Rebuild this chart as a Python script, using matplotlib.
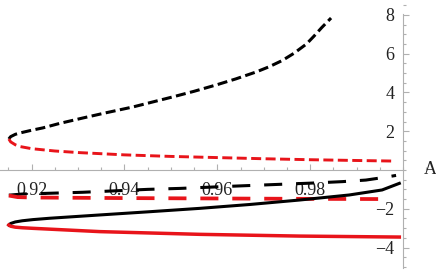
import numpy as np
import matplotlib
matplotlib.use("Agg")
import matplotlib.pyplot as plt
from matplotlib.ticker import MultipleLocator, FixedLocator

# upper pair (short dashes), meet at the nose
a_up_black = [0.9151, 0.9155, 0.9165, 0.9175, 0.9200, 0.9224, 0.9260, 0.9310, 0.9360,
              0.9418, 0.9504, 0.9550, 0.9598, 0.9640, 0.9684, 0.9712, 0.9740, 0.9765,
              0.9792, 0.9808, 0.9825, 0.9845]
y_up_black = [1.60, 1.72, 1.84, 1.91, 2.05, 2.17, 2.40, 2.68, 2.95,
              3.25, 3.77, 4.06, 4.39, 4.70, 5.06, 5.33, 5.65, 6.02,
              6.50, 6.90, 7.35, 7.84]
a_up_red = [0.9151, 0.9155, 0.9165, 0.9175, 0.9200, 0.9250, 0.9300, 0.9400, 0.9500,
            0.9600, 0.9700, 0.9800, 0.9900, 0.9980]
y_up_red = [1.60, 1.45, 1.30, 1.21, 1.10, 0.98, 0.90, 0.78, 0.70,
            0.64, 0.58, 0.53, 0.49, 0.46]

# middle pair (long dashes)
a_mid_black = [0.9151, 0.9180, 0.9240, 0.9310, 0.9450, 0.9520, 0.9650, 0.9735, 0.9800,
               0.9870, 0.9920, 0.9960, 0.9985]
y_mid_black = [-1.30, -1.24, -1.20, -1.15, -1.00, -0.95, -0.82, -0.74, -0.68,
               -0.60, -0.52, -0.38, -0.28]
a_mid_red = [0.9151, 0.9170, 0.9200, 0.9400, 0.9600, 0.9800, 0.9960]
y_mid_red = [-1.32, -1.40, -1.42, -1.45, -1.47, -1.49, -1.50]

# lower pair (solid)
a_low_black = [0.9151, 0.9155, 0.9165, 0.9180, 0.9203, 0.9239, 0.9347, 0.9450, 0.9562,
               0.9670, 0.9777, 0.9884, 0.9955, 0.9992]
y_low_black = [-2.84, -2.76, -2.68, -2.62, -2.56, -2.49, -2.32, -2.16, -1.98,
               -1.78, -1.55, -1.29, -1.03, -0.69]
a_low_red = [0.9151, 0.9155, 0.9165, 0.9180, 0.9203, 0.9347, 0.9562, 0.9777, 0.9992]
y_low_red = [-2.84, -2.90, -2.95, -2.98, -3.01, -3.18, -3.32, -3.41, -3.46]

x_ticks = [0.92, 0.94, 0.96, 0.98]
y_ticks = [-4, -2, 2, 4, 6, 8]

plt.rcParams['font.family'] = ['Liberation Serif', 'DejaVu Serif']
plt.rcParams['lines.scale_dashes'] = False

fig = plt.figure(figsize=(4.36, 2.70), dpi=100)
ax = fig.add_axes([0, 0, 1, 1])
ax.patch.set_alpha(0)

red = '#e8141a'
short = (0, (7.2, 3.2))
long_ = (0, (13, 10))
ax.plot(a_up_black, y_up_black, color='black', lw=2.2, linestyle=short)
ax.plot(a_up_red, y_up_red, color=red, lw=2.1, linestyle=short)
ax.plot(a_mid_black, y_mid_black, color='black', lw=2.2, linestyle=long_)
ax.plot(a_mid_red, y_mid_red, color=red, lw=2.7, linestyle=long_)
ax.plot(a_low_black, y_low_black, color='black', lw=2.2)
ax.plot(a_low_red, y_low_red, color=red, lw=2.5)

ax.set_xlim(0.9132, 1.0071)
ax.set_ylim(-5.16, 8.77)

for s in ['top', 'right']:
    ax.spines[s].set_visible(False)
axis_col = '#b0b0b0'
ax.spines['left'].set_position(('data', 1.0))
ax.spines['bottom'].set_position(('data', 0))
ax.spines['left'].set_bounds(-5.05, 8.05)
ax.spines['bottom'].set_bounds(0.9132, 1.0)
for s in ['left', 'bottom']:
    ax.spines[s].set_color(axis_col)
    ax.spines[s].set_linewidth(0.8)

ax.xaxis.set_major_locator(FixedLocator(x_ticks))
ax.xaxis.set_minor_locator(MultipleLocator(0.005))
ax.yaxis.set_major_locator(FixedLocator(y_ticks))
ax.yaxis.set_minor_locator(MultipleLocator(0.5))
ax.set_xticklabels(['%.2f' % v for v in x_ticks])
ax.set_yticklabels(['\u2212%d' % -v if v < 0 else '%d' % v for v in y_ticks])

ax.tick_params(which='both', direction='in', color=axis_col, width=0.8, labelsize=13,
               labelcolor='#222222')
ax.tick_params(which='major', length=4)
ax.tick_params(which='minor', length=2)
ax.tick_params(axis='x', pad=9)
ax.tick_params(axis='y', pad=6)

ax.text(1.0045, 0, 'A', fontsize=13, ha='left', va='center', color='#222222')

fig.savefig('out.png', dpi=100)
